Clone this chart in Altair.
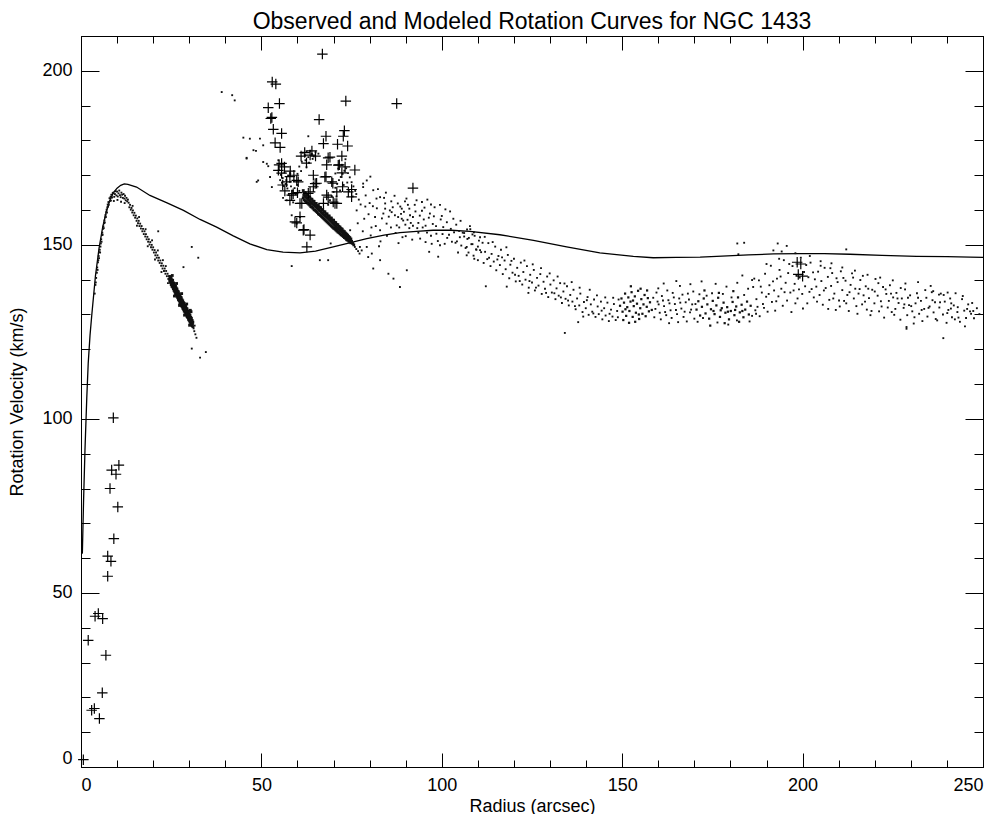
import altair as alt
import pandas as pd

W, H = 902, 731
FONT = "Liberation Sans"

# ---- model rotation curve (solid line) ----
model_r = [0.37, 0.7, 1.1, 1.6, 2.0, 2.5, 3.0, 4.0, 5.0, 6.0, 7.0, 8.0, 9.0, 10.0, 11.0, 12.0,
           13.0, 15.4, 19.1, 24.0, 28.4, 33.0, 37.6, 42.2, 46.8, 51.5, 56.0, 60.7, 65.0, 69.9,
           75.0, 79.2, 84.0, 88.4, 93.0, 97.6, 102.5, 107.8, 116.1, 125.4, 134.6, 143.8, 153.1,
           158.6, 165.0, 171.6, 176.2, 185.0, 192.0, 199.3, 206.0, 213.1, 222.0, 231.6, 240.0,
           246.4, 250.0]
model_v = [61.3, 76.0, 91.0, 106.0, 116.0, 124.0, 130.0, 141.0, 149.0, 155.0, 159.5, 162.8,
           165.0, 166.3, 167.1, 167.5, 167.4, 166.6, 164.2, 162.0, 159.9, 157.3, 155.1, 152.6,
           150.3, 148.6, 147.9, 147.7, 148.2, 149.4, 150.7, 151.8, 152.8, 153.5, 153.9, 154.2,
           154.2, 153.9, 152.9, 151.3, 149.4, 147.7, 146.7, 146.3, 146.4, 146.5, 146.7, 147.1,
           147.4, 147.5, 147.5, 147.3, 147.0, 146.7, 146.6, 146.5, 146.4]

# ---- "+" symbols (radius, velocity) ----
cross_pts = [
    (0.65, 2.1), (2.0, 36.4), (2.95, 16.3), (3.7, 16.8), (3.9, 43.3), (4.8, 44.1), (5.1, 13.9),
    (5.9, 21.3), (6.0, 42.6), (6.9, 32.1), (7.4, 54.8), (7.4, 60.6), (8.3, 59.1), (9.1, 65.6),
    (10.2, 74.7), (8.04, 80.0), (8.5, 85.3), (9.7, 84.1), (10.5, 86.7), (8.96, 100.3),
    (66.9, 204.8), (53.0, 196.8), (54.0, 196.2), (51.9, 189.4), (55.0, 190.6), (73.4, 191.3),
    (87.5, 190.6), (52.6, 186.3), (66.0, 186.0), (53.3, 183.2), (55.6, 182.0), (73.0, 182.8),
    (67.9, 181.2), (72.7, 181.2), (67.2, 179.1), (71.1, 178.9), (73.9, 178.4), (53.8, 179.3),
    (55.2, 178.0), (63.5, 175.8), (68.5, 175.0), (72.3, 175.5), (54.9, 173.0), (56.4, 172.4),
    (71.6, 173.0), (68.1, 173.0), (75.9, 171.5), (73.2, 172.4), (55.6, 170.6), (57.9, 169.6),
    (60.2, 168.1), (57.0, 168.1), (67.9, 169.6), (65.3, 167.7), (64.4, 166.7), (69.8, 167.7),
    (72.5, 166.7), (75.0, 165.9), (55.9, 167.2), (58.4, 164.3), (63.0, 164.8), (68.1, 164.3),
    (70.9, 165.2), (75.0, 163.8), (57.9, 162.8), (60.7, 161.9), (67.2, 161.9), (70.4, 161.9),
    (60.7, 158.1), (59.8, 156.3), (59.3, 156.6), (61.8, 154.4), (63.5, 152.8), (62.6, 149.4),
    (72.3, 170.7), (55.6, 173.4), (52.9, 186.6), (54.7, 171.4), (59.8, 168.5), (58.8, 164.7),
    (61.2, 161.9), (61.6, 154.2), (69.0, 175.2), (67.6, 169.5), (69.5, 168.1), (71.3, 172.9),
    (74.1, 165.2), (69.9, 162.3), (68.5, 163.7), (70.9, 161.9), (64.4, 170.0), (64.9, 167.6),
    (63.5, 165.2), (62.0, 176.5), (61.0, 175.5), (65.0, 175.5), (64.0, 177.0), (62.5, 173.5),
    (58.0, 171.2), (59.0, 170.0), (56.5, 165.5), (60.0, 165.0),
    (92.0, 166.3), (198.5, 145.0), (199.5, 144.5), (198.8, 141.5), (200.0, 141.0),
]

# ---- small dots: rise, peak and decline of the inner disk ----
rise_dots = [
    (3.8, 136.0), (4.0, 138.5), (4.1, 139.2), (4.2, 140.5), (4.4, 142.0), (4.5, 143.5), (4.6, 142.8),
    (4.7, 145.0), (4.8, 145.6), (4.9, 146.8), (5.0, 146.2), (5.1, 147.9), (5.2, 148.6), (5.3, 147.8),
    (5.4, 149.5), (5.5, 150.4), (5.6, 151.6), (5.7, 150.9), (5.8, 152.8), (5.9, 153.5), (6.0, 152.9),
    (6.1, 154.6), (6.2, 155.3), (6.3, 154.8), (6.4, 156.2), (6.5, 157.0), (6.6, 156.4), (6.7, 157.9),
    (6.8, 158.6), (6.9, 158.0), (7.0, 159.4), (7.1, 160.1), (7.2, 159.3), (7.3, 160.8), (7.4, 161.6),
    (7.5, 161.0), (7.7, 161.5),
    (7.6, 162.3), (7.9, 163.4), (8.2, 163.8), (8.4, 164.4), (8.6, 163.6), (8.8, 164.9), (9.0, 165.0),
    (9.2, 163.8), (9.4, 164.6), (9.6, 165.4), (9.8, 164.2), (10.0, 165.3), (10.2, 163.9), (10.4, 164.8),
    (10.6, 165.6), (10.8, 164.3), (11.0, 163.7), (11.2, 165.0), (11.4, 164.4), (11.6, 163.5),
    (11.8, 164.6), (12.0, 163.3), (12.2, 164.1), (12.4, 162.8), (12.6, 163.5), (12.8, 162.5),
    (13.0, 163.0), (9.1, 162.6), (10.1, 162.9), (11.1, 162.4), (12.1, 162.0), (8.0, 162.6), (8.3, 162.7),
    (13.2, 162.1), (13.4, 160.8), (13.6, 161.5), (13.8, 160.1), (14.0, 160.6), (14.2, 159.3),
    (14.4, 159.9), (14.6, 158.5), (14.8, 159.2), (15.0, 157.8), (15.2, 158.4), (15.4, 156.9),
    (15.6, 157.6), (15.8, 156.2), (16.0, 156.9), (16.2, 155.4), (16.4, 156.1), (16.6, 154.7),
    (16.8, 155.4), (17.0, 153.9), (17.2, 154.6), (17.4, 153.1), (17.6, 153.9), (17.8, 152.4),
    (18.0, 153.1), (18.2, 151.6), (18.4, 152.3), (18.6, 150.9), (18.8, 151.6), (19.0, 150.1),
    (19.2, 150.8), (19.4, 149.3), (19.6, 150.0), (19.8, 148.6), (20.0, 149.3), (20.2, 147.8),
    (20.4, 148.5), (20.6, 147.0), (20.8, 147.8), (21.0, 146.3), (21.2, 147.0), (21.4, 145.5),
    (21.6, 146.3), (21.8, 144.8), (22.0, 145.5), (22.2, 144.0), (22.4, 144.7), (22.6, 143.2),
    (22.8, 144.0), (23.0, 142.5), (23.2, 143.2), (23.4, 141.7), (23.6, 142.5), (23.8, 141.0),
    (24.0, 141.7), (24.2, 140.2), (24.4, 141.0),
    (14.3, 161.2), (16.1, 158.0), (17.9, 154.5), (19.7, 151.3), (21.3, 148.4), (22.7, 145.6),
    (23.5, 143.9), (15.5, 155.5), (18.5, 149.6), (20.5, 145.8), (22.3, 142.2), (24.1, 139.0),
    (30.7, 149.4), (32.5, 146.3), (28.4, 143.6), (30.7, 120.2), (34.6, 119.2), (33.0, 117.6),
    (21.4, 153.9), (31.2, 126.0), (31.4, 125.2), (31.7, 124.3), (32.0, 123.3), (31.5, 126.8),
]

# ---- dense clump of the inner disk (24 - 31 arcsec) ----
clump_dots = [
    (24.6, 140.9), (24.6, 139.6), (24.8, 140.8), (24.8, 139.2), (25.0, 140.3), (25.0, 138.6),
    (25.2, 139.9), (25.2, 138.1), (25.4, 139.8), (25.4, 137.9), (25.6, 139.1), (25.6, 137.4),
    (25.8, 138.9), (25.8, 136.9), (26.0, 138.3), (26.0, 136.5), (26.2, 138.1), (26.2, 136.0),
    (26.4, 137.6), (26.4, 135.7), (26.6, 137.3), (26.6, 135.2), (26.8, 136.7), (26.8, 134.8),
    (27.0, 136.5), (27.0, 134.3), (27.2, 135.9), (27.2, 134.0), (27.4, 135.6), (27.4, 133.4),
    (27.6, 135.0), (27.6, 133.1), (27.8, 134.8), (27.8, 132.6), (28.0, 134.2), (28.0, 132.3),
    (28.2, 133.9), (28.2, 131.8), (28.4, 133.4), (28.4, 131.5), (28.6, 133.2), (28.6, 131.0),
    (28.8, 132.6), (28.8, 130.7), (29.0, 132.3), (29.0, 130.2), (29.2, 131.8), (29.2, 129.9),
    (29.4, 131.6), (29.4, 129.4), (29.6, 131.0), (29.6, 129.1), (29.8, 130.7), (29.8, 128.6),
    (30.0, 130.1), (30.0, 128.3), (30.2, 129.8), (30.2, 127.8), (30.4, 129.2), (30.4, 127.5),
    (30.6, 128.9), (30.6, 127.1), (30.8, 128.3), (30.8, 126.8), (31.0, 127.8), (31.0, 126.5),
    (24.7, 140.1), (24.9, 139.7), (25.1, 139.3), (25.3, 138.9), (25.5, 138.4), (25.7, 138.0),
    (25.9, 137.6), (26.1, 137.2), (26.3, 136.8), (26.5, 136.4), (26.7, 136.0), (26.9, 135.6),
    (27.1, 135.1), (27.3, 134.7), (27.5, 134.3), (27.7, 133.9), (27.9, 133.5), (28.1, 133.1),
    (28.3, 132.7), (28.5, 132.3), (28.7, 131.9), (28.9, 131.5), (29.1, 131.1), (29.3, 130.7),
    (29.5, 130.2), (29.7, 129.8), (29.9, 129.4), (30.1, 129.0), (30.3, 128.6), (30.5, 128.2),
    (30.7, 127.8), (30.9, 127.4),
    (25.3, 141.2), (26.5, 138.9), (27.9, 136.0), (29.3, 133.0), (30.5, 130.8), (25.9, 135.3),
    (27.3, 132.6), (28.7, 129.8), (30.1, 126.9), (30.3, 131.2),
]

# ---- scattered dots, 38 - 110 arcsec ----
mid_dots = [
    (39.0, 193.9), (41.9, 193.0), (42.6, 191.5), (45.0, 180.8), (46.8, 180.5), (49.6, 180.5),
    (48.5, 177.0), (45.9, 175.0), (50.5, 173.8), (49.1, 168.5), (51.9, 172.6), (52.4, 169.5),
    (52.9, 166.6), (54.7, 174.3), (47.8, 177.2), (50.5, 178.6), (51.5, 173.3), (48.7, 168.1),
    (57.0, 162.8), (58.4, 158.5), (60.7, 158.0), (59.8, 156.1), (58.4, 143.9), (66.2, 145.6),
    (68.5, 145.6), (69.2, 150.4), (73.6, 151.3), (63.0, 181.2), (65.8, 176.2), (45.9, 174.8),
    (61.5, 176.5), (62.0, 175.8), (62.5, 176.9), (63.0, 175.2), (63.5, 177.0), (64.0, 176.1),
    (64.5, 175.4), (65.0, 176.6), (62.2, 174.3), (63.2, 173.6), (64.2, 174.7), (61.2, 173.9),
    (60.5, 172.5), (61.0, 171.2), (62.5, 172.3), (60.0, 170.4),
    (55.4, 170.1), (55.9, 169.2), (56.4, 170.8), (56.9, 168.6), (57.4, 169.9), (57.9, 168.1),
    (55.7, 167.8), (56.2, 166.9), (56.7, 167.5), (57.2, 166.2), (58.2, 166.8), (58.7, 165.5),
    (59.2, 166.3), (59.5, 164.6), (55.2, 168.6), (54.8, 171.4), (58.0, 170.5), (59.0, 168.4),
    (60.0, 167.2), (60.5, 165.5), (57.6, 164.3), (56.0, 163.5), (58.8, 162.2),
    (68.5, 161.5), (69.0, 162.8), (69.5, 164.0), (70.0, 165.2), (70.5, 166.4), (71.0, 167.5),
    (71.5, 168.6), (72.0, 169.5), (72.5, 170.4), (73.0, 171.3), (73.5, 172.0), (74.0, 170.6),
    (74.5, 169.4), (75.0, 168.0), (75.5, 166.8), (76.0, 165.5), (73.8, 167.9), (72.8, 167.2),
    (71.8, 165.6), (70.8, 163.9), (69.8, 162.0), (74.3, 165.4), (75.3, 163.9), (76.3, 164.6),
    (72.3, 173.0), (71.3, 171.9), (73.3, 174.6), (70.5, 170.5), (69.3, 168.0),
    (75.9, 149.4), (76.3, 148.8), (76.8, 148.2), (77.2, 147.5), (77.8, 148.4),
    (78.2, 167.6), (79.2, 168.5), (81.0, 165.7), (82.9, 163.7), (84.3, 161.9), (85.6, 159.9),
    (87.0, 158.5), (83.8, 159.0), (81.5, 158.0), (84.7, 156.1), (87.5, 155.6), (78.2, 166.6),
    (76.4, 159.9), (74.6, 154.2), (77.3, 149.4), (79.6, 146.5), (81.0, 143.2), (82.9, 145.6),
    (85.2, 141.7), (86.6, 140.3), (80.0, 162.0), (82.0, 160.5), (86.0, 162.5), (88.5, 161.0),
    (89.5, 159.5), (90.5, 157.2), (92.0, 158.0), (93.5, 156.3), (91.0, 154.8), (94.5, 159.8),
    (95.5, 155.5), (80.5, 155.0), (78.5, 157.5), (83.0, 151.0), (88.0, 150.5), (90.0, 152.5),
    (77.0, 163.0), (78.8, 161.0), (80.2, 169.6), (81.9, 163.3), (84.3, 160.4), (86.1, 159.4),
    (87.9, 158.0), (88.9, 157.5), (82.9, 154.2), (79.2, 149.4), (80.6, 147.5),
    (89.3, 157.0), (91.2, 158.5), (96.7, 159.0), (100.4, 155.1), (103.2, 157.5), (105.0, 152.2),
    (106.9, 149.4), (94.0, 151.8), (99.5, 149.9), (88.9, 160.4), (91.0, 160.4), (90.3, 142.7),
    (88.4, 137.9), (92.5, 161.5), (95.0, 157.3), (97.5, 156.0), (98.5, 153.2), (101.5, 152.0),
    (102.5, 154.6), (104.0, 155.8), (92.0, 155.5), (93.5, 153.5), (95.5, 150.8), (97.0, 152.6),
    (100.0, 158.3), (101.0, 160.2), (98.0, 160.8), (94.5, 162.3), (96.0, 163.0), (89.8, 162.5),
    (103.8, 150.6), (105.8, 153.5), (107.5, 152.0), (108.5, 150.2), (96.5, 148.0), (99.0, 146.6),
    (104.5, 147.8), (110.0, 149.5), (109.0, 146.0),
    (76.7, 156.2), (77.5, 161.6), (78.1, 153.9), (78.9, 164.2), (79.7, 158.8), (80.3, 152.7),
    (80.9, 161.1), (81.7, 155.4), (82.3, 166.0), (82.6, 149.6), (83.4, 157.6), (84.0, 163.5),
    (84.8, 152.6), (85.3, 158.1), (85.9, 155.0), (86.4, 160.8), (87.2, 153.4), (87.8, 161.9),
    (88.2, 155.0), (88.7, 158.9), (89.1, 152.2), (89.9, 155.8), (90.6, 161.5), (91.4, 156.3),
    (91.8, 151.5), (92.7, 159.6), (93.2, 154.8), (93.9, 158.4), (94.7, 155.0), (95.2, 160.7),
    (95.9, 153.5), (96.4, 157.8), (97.2, 150.3), (97.8, 158.2), (98.4, 155.4), (98.9, 151.1),
    (99.7, 157.3), (100.2, 153.1), (100.8, 150.3), (101.4, 156.5), (102.0, 152.9), (102.8, 150.9),
    (103.4, 153.6), (104.2, 151.0), (104.8, 154.0), (105.4, 149.8), (106.2, 152.4), (107.0, 154.4),
    (108.9, 153.6), (109.6, 148.6), (110.6, 152.2), (84.5, 165.0), (86.9, 164.1), (90.2, 163.3),
    (93.0, 162.8), (97.0, 161.6), (99.5, 161.5), (102.3, 159.6), (105.2, 156.9), (107.8, 155.4),
]

# ---- dense diagonal band, 61 - 76 arcsec ----
band_dots = [
    (61.6, 165.6), (61.6, 163.5), (61.9, 165.0), (61.9, 162.9), (62.2, 164.9), (62.2, 162.6),
    (62.5, 164.3), (62.5, 162.4), (62.8, 164.4), (62.8, 162.0), (63.1, 163.8), (63.1, 161.7),
    (63.4, 163.7), (63.4, 161.4), (63.7, 163.2), (63.7, 161.0), (64.0, 163.1), (64.0, 160.8),
    (64.3, 162.6), (64.3, 160.5), (64.6, 162.5), (64.6, 160.1), (64.9, 161.9), (64.9, 159.9),
    (65.2, 161.9), (65.2, 159.6), (65.5, 161.3), (65.5, 159.3), (65.8, 161.3), (65.8, 158.9),
    (66.1, 160.8), (66.1, 158.7), (66.4, 160.7), (66.4, 158.4), (66.7, 160.1), (66.7, 158.1),
    (67.0, 160.1), (67.0, 157.8), (67.3, 159.5), (67.3, 157.5), (67.6, 159.5), (67.6, 157.2),
    (67.9, 158.9), (67.9, 156.9), (68.2, 158.9), (68.2, 156.6), (68.5, 158.3), (68.5, 156.3),
    (68.8, 158.3), (68.8, 156.0), (69.1, 157.7), (69.1, 155.7), (69.4, 157.7), (69.4, 155.4),
    (69.7, 157.1), (69.7, 155.1), (70.0, 157.1), (70.0, 154.8), (70.3, 156.5), (70.3, 154.6),
    (70.6, 156.4), (70.6, 154.3), (70.9, 155.9), (70.9, 154.0), (71.2, 155.8), (71.2, 153.7),
    (71.5, 155.3), (71.5, 153.5), (71.8, 155.1), (71.8, 153.2), (72.1, 154.7), (72.1, 152.9),
    (72.4, 154.5), (72.4, 152.7), (72.7, 154.0), (72.7, 152.4), (73.0, 153.8), (73.0, 152.1),
    (73.3, 153.4), (73.3, 151.9), (73.6, 153.1), (73.6, 151.6), (73.9, 152.8), (73.9, 151.4),
    (74.2, 152.4), (74.2, 151.1), (74.5, 152.1), (74.5, 150.8), (74.8, 151.7), (74.8, 150.6),
    (61.75, 164.25), (62.05, 163.95), (62.35, 163.65), (62.65, 163.35), (62.95, 163.05),
    (63.25, 162.75), (63.55, 162.45), (63.85, 162.15), (64.15, 161.85), (64.45, 161.55),
    (64.75, 161.25), (65.05, 160.95), (65.35, 160.65), (65.65, 160.35), (65.95, 160.05),
    (66.25, 159.75), (66.55, 159.45), (66.85, 159.15), (67.15, 158.85), (67.45, 158.55),
    (67.75, 158.25), (68.05, 157.95), (68.35, 157.65), (68.65, 157.35), (68.95, 157.05),
    (69.25, 156.75), (69.55, 156.45), (69.85, 156.15), (70.15, 155.85), (70.45, 155.55),
    (70.75, 155.25), (71.05, 154.95), (71.35, 154.65), (71.65, 154.35), (71.95, 154.05),
    (72.25, 153.75), (72.55, 153.45), (72.85, 153.15), (73.15, 152.85), (73.45, 152.55),
    (73.75, 152.25), (74.05, 151.95), (74.35, 151.65), (74.65, 151.35), (75.0, 151.0),
    (75.3, 150.4), (75.6, 150.0),
]

# ---- scattered band, 106 - 150 arcsec ----
slope_dots = [
    (106.2, 153.4), (106.6, 149.1), (107.1, 151.7), (107.4, 147.8), (107.9, 154.5), (108.2, 150.2),
    (108.8, 146.9), (109.1, 152.6), (109.5, 148.7), (110.0, 145.6), (110.3, 151.2), (110.9, 147.9),
    (111.3, 150.6), (111.6, 144.8), (112.0, 148.0), (112.6, 145.9), (112.9, 150.5), (113.5, 143.9),
    (113.8, 147.4), (114.4, 145.2), (114.8, 149.5), (115.1, 142.7), (115.7, 146.8), (116.1, 144.2),
    (116.4, 148.6), (116.9, 141.6), (117.4, 145.5), (117.7, 143.0), (118.3, 147.1), (118.7, 140.4),
    (119.0, 144.3), (119.6, 142.0), (120.0, 146.0), (120.5, 139.5), (120.9, 143.4), (121.3, 141.1),
    (121.9, 144.9), (122.3, 138.6), (122.6, 142.2), (123.2, 140.0), (123.6, 143.9), (124.1, 137.7),
    (124.5, 141.4), (125.0, 139.2), (125.5, 142.8), (125.8, 136.9), (126.4, 140.5), (126.8, 138.3),
    (127.3, 141.6), (127.7, 135.9), (128.2, 139.4), (128.6, 137.4), (129.2, 140.9), (129.5, 135.0),
    (130.1, 138.6), (130.5, 136.3), (131.0, 139.8), (131.5, 134.4), (131.8, 137.5), (132.4, 135.4),
    (132.8, 139.0), (133.3, 133.3), (133.7, 136.6), (134.3, 134.5), (134.7, 138.1), (135.2, 132.6),
    (135.6, 135.6), (136.2, 133.7), (136.5, 137.1), (137.1, 131.5), (137.5, 134.6), (138.1, 132.6),
    (138.4, 136.0), (139.0, 130.7), (139.4, 133.6), (139.9, 131.8), (140.4, 135.0), (140.7, 129.9),
    (141.3, 132.9), (141.7, 130.8), (142.2, 134.3), (142.6, 129.3), (143.2, 132.3), (143.5, 130.1),
    (144.1, 133.7), (144.5, 128.6), (145.0, 131.8), (145.4, 129.7), (145.9, 133.4), (146.3, 128.1),
    (146.9, 131.4), (147.3, 129.4), (147.7, 133.0), (148.2, 128.4), (148.6, 131.0), (149.0, 134.3),
    (106.9, 147.0), (108.5, 153.0), (110.6, 148.5), (111.9, 152.3), (113.1, 146.3), (114.1, 150.8),
    (115.4, 145.8), (116.7, 146.4), (117.9, 149.3), (119.3, 145.4), (120.3, 141.4), (121.6, 139.6),
    (122.9, 145.5), (124.3, 139.6), (125.2, 144.4), (126.1, 137.7), (127.5, 143.3), (128.9, 136.2),
    (129.9, 141.8), (131.2, 136.1), (132.1, 140.9), (133.0, 134.9), (134.0, 138.9), (135.0, 134.0),
    (136.0, 139.3), (136.9, 132.4), (138.2, 137.7), (139.2, 129.4), (140.2, 134.1), (141.0, 137.1),
    (142.0, 130.3), (143.0, 135.5), (144.3, 131.1), (145.3, 134.9), (146.5, 130.2), (147.5, 134.8),
    (148.8, 129.2), (134.1, 124.7), (137.8, 127.8), (112.2, 138.1), (118.0, 138.0), (124.0, 136.2),
]

# ---- scattered dots, 158 - 186 arcsec ----
flat_dots = [
    (158.6, 134.8), (159.2, 131.6), (159.8, 133.7), (160.4, 130.5), (161.0, 135.3), (161.6, 132.4),
    (162.2, 129.8), (162.8, 134.1), (163.4, 131.2), (164.0, 136.2), (164.6, 133.0), (165.2, 130.1),
    (165.8, 134.6), (166.4, 131.7), (167.0, 129.3), (167.6, 133.5), (168.2, 136.0), (168.8, 130.6),
    (169.4, 132.9), (170.0, 128.8), (163.0, 127.5), (166.0, 138.2), (160.0, 137.5),
    (158.9, 129.2), (159.5, 136.3), (160.1, 132.9), (160.7, 128.6), (161.3, 134.0), (161.9, 130.7),
    (162.5, 136.9), (163.1, 133.2), (163.7, 129.0), (164.3, 134.9), (164.9, 131.3), (165.5, 127.8),
    (166.1, 133.4), (166.7, 135.7), (167.3, 130.8), (167.9, 128.0), (168.5, 134.3), (169.1, 131.4),
    (169.7, 136.6), (170.3, 133.0), (170.9, 127.9), (171.4, 135.8), (172.4, 129.0), (173.4, 135.4),
    (174.9, 136.1), (176.4, 127.7), (177.9, 135.9), (179.4, 127.1), (180.3, 134.9), (181.8, 128.3),
    (183.8, 135.6), (185.3, 128.0), (186.0, 129.6), (187.1, 130.2), (184.9, 137.4), (181.9, 139.1),
    (178.9, 138.0), (175.9, 138.8), (172.0, 139.5), (168.9, 138.7), (165.0, 139.6), (161.5, 138.9),
    (186.6, 140.3), (183.3, 141.2),
]

# ---- scattered cloud, 186 - 250 arcsec ----
cloud_dots = [
    (186.3, 137.9), (186.9, 131.2), (187.2, 134.4), (187.9, 139.8), (188.1, 129.5), (188.7, 136.3),
    (189.0, 133.0), (189.6, 141.7), (189.9, 135.1), (190.3, 130.8), (190.8, 138.4), (191.2, 144.0),
    (191.5, 133.6), (192.1, 136.9), (192.4, 131.1), (192.9, 140.3), (193.3, 135.2), (193.6, 142.8),
    (194.1, 137.4), (194.5, 132.5), (194.8, 145.6), (195.3, 139.1), (195.7, 134.0), (196.0, 141.9),
    (196.6, 136.3), (196.9, 130.7), (197.2, 143.9), (197.8, 138.8), (198.3, 141.1), (198.6, 134.6),
    (199.0, 137.2), (199.5, 146.3), (199.9, 135.9), (200.4, 142.2), (200.7, 138.1), (201.3, 133.2),
    (201.6, 140.7), (202.2, 144.9), (202.5, 137.3), (203.1, 134.9), (203.4, 140.1), (203.8, 138.0),
    (204.3, 142.3), (204.7, 135.6), (205.2, 139.6), (205.6, 132.8), (206.1, 143.4), (206.4, 137.6),
    (207.0, 140.8), (207.4, 134.2), (207.9, 138.2), (208.2, 141.9), (208.8, 136.0), (209.2, 131.3),
    (209.7, 139.3), (210.1, 134.0), (210.6, 142.4), (211.0, 137.0), (211.5, 133.9), (211.9, 139.7),
    (212.4, 135.6), (212.8, 131.0), (213.3, 138.5), (213.7, 141.8), (214.2, 134.6), (214.6, 137.4),
    (215.2, 130.2), (215.5, 136.0), (216.0, 139.9), (216.5, 132.9), (216.9, 135.5), (217.5, 138.1),
    (217.8, 131.4), (218.4, 134.7), (218.8, 129.8), (219.3, 137.1), (219.9, 133.2), (220.2, 140.2),
    (220.8, 135.4), (221.2, 130.9), (221.7, 133.8), (222.3, 137.9), (222.6, 129.1), (223.2, 135.9),
    (223.6, 132.0), (224.2, 138.4), (224.7, 130.7), (225.1, 134.9), (225.7, 131.6), (226.0, 136.2),
    (226.6, 133.3), (227.1, 128.5), (227.5, 134.6), (228.0, 131.9), (228.4, 137.2), (229.0, 129.8),
    (229.5, 132.7), (229.8, 135.5), (230.4, 130.9), (230.8, 127.4), (231.3, 133.2), (231.7, 136.1),
    (232.3, 130.2), (232.8, 133.9), (233.2, 128.1), (233.7, 131.6), (234.3, 134.8), (234.6, 129.4),
    (235.2, 132.3), (235.8, 136.4), (236.3, 130.6), (236.7, 133.5), (237.3, 128.3), (237.9, 132.0),
    (238.3, 136.0), (238.9, 130.0), (239.4, 133.7), (239.9, 127.6), (240.4, 131.3), (240.9, 134.6),
    (241.4, 129.2), (241.9, 132.6), (242.4, 136.1), (242.9, 130.7), (243.6, 127.9), (244.2, 134.4),
    (244.8, 131.1), (245.3, 129.0), (245.9, 132.9), (246.7, 130.2), (247.5, 128.9), (248.3, 131.8),
    (249.0, 130.1),
    (186.0, 139.9), (187.5, 132.2), (188.4, 138.0), (189.3, 131.9), (190.6, 135.9), (191.8, 139.5),
    (192.7, 133.8), (193.9, 140.9), (195.0, 136.4), (196.3, 144.5), (197.5, 136.9), (198.0, 133.2),
    (199.2, 140.6), (200.1, 131.7), (201.0, 144.2), (201.9, 136.5), (202.9, 142.1), (204.0, 133.7),
    (205.0, 144.0), (205.9, 136.9), (207.1, 131.6), (207.7, 143.3), (208.5, 134.6), (209.4, 140.4),
    (210.3, 132.3), (211.3, 140.5), (212.1, 133.2), (213.0, 136.4), (214.0, 140.6), (214.9, 132.4),
    (215.8, 137.3), (216.7, 141.1), (217.3, 133.7), (218.2, 137.4), (219.1, 131.0), (220.0, 136.6),
    (221.0, 139.0), (221.9, 132.3), (223.0, 137.2), (223.9, 133.9), (224.5, 136.0), (225.4, 129.9),
    (226.3, 134.6), (227.2, 137.6), (228.2, 132.9), (229.2, 134.8), (230.1, 132.4), (231.0, 129.2),
    (232.0, 134.8), (233.0, 131.3), (234.0, 137.0), (234.9, 131.9), (236.0, 134.1), (236.9, 128.7),
    (238.1, 133.5), (239.1, 135.6), (240.1, 130.4), (241.2, 133.2), (242.2, 128.6), (243.0, 132.1),
    (244.4, 135.3), (245.6, 131.6), (247.0, 133.3),
    (246.4, 130.9), (247.3, 131.0), (243.2, 129.1), (239.0, 123.2), (241.1, 131.7), (240.2, 136.3),
    (236.2, 136.7), (237.8, 135.7), (228.8, 126.4), (245.0, 126.6), (228.8, 125.9),
    (190.0, 144.5), (193.5, 146.0), (198.0, 147.6), (202.0, 146.8), (205.0, 145.3), (208.0, 144.7),
    (211.0, 143.5), (214.5, 142.6), (218.0, 141.4), (221.5, 140.6), (225.0, 139.8), (228.5, 138.9),
    (232.0, 139.3), (235.5, 138.2),
    (181.9, 150.4), (183.8, 150.6), (193.1, 150.4), (195.6, 149.7), (191.9, 148.4), (194.2, 148.1),
    (212.1, 148.7), (182.2, 147.3),
]

# ---- dense clumps of the outer disk (149 - 186 arcsec) ----
outer_clump_dots = [
    (149.4, 132.5), (149.8, 134.6), (150.1, 130.8), (150.5, 133.4), (150.8, 136.0), (151.1, 129.6),
    (151.4, 132.1), (151.7, 134.9), (152.0, 131.0), (152.3, 133.7), (152.6, 136.4), (152.9, 129.3),
    (153.2, 132.4), (153.5, 135.2), (153.8, 130.5), (154.1, 133.1), (154.4, 136.8), (154.7, 128.7),
    (155.0, 131.8), (155.3, 134.4), (155.6, 130.2), (155.9, 132.9), (156.2, 135.6), (156.5, 129.5),
    (156.8, 132.2), (157.1, 134.7), (157.4, 130.9), (157.7, 133.5), (150.3, 128.4), (151.9, 127.6),
    (153.6, 127.9), (155.1, 137.4), (156.9, 136.9), (152.4, 138.1), (158.2, 131.3), (154.6, 130.0),
    (150.9, 131.5), (153.0, 134.0),
    (170.6, 131.4), (171.1, 133.8), (171.6, 129.7), (172.1, 132.2), (172.6, 134.6), (173.1, 130.3),
    (173.6, 132.9), (174.1, 128.8), (174.6, 131.5), (175.1, 133.9), (175.6, 130.1), (176.1, 132.6),
    (176.6, 134.8), (177.1, 129.3), (177.6, 131.8), (178.1, 133.4), (178.6, 130.5), (179.1, 132.1),
    (179.6, 128.6), (180.1, 131.0), (180.6, 133.6), (181.1, 129.8), (181.6, 132.3), (182.1, 134.9),
    (182.6, 130.6), (183.1, 132.8), (183.6, 129.2), (184.1, 131.4), (184.6, 133.7), (185.1, 130.0),
    (185.6, 132.5), (174.4, 126.8), (178.4, 127.5), (182.4, 127.9), (176.8, 136.2), (180.8, 136.7),
    (172.8, 136.9), (175.3, 131.0), (177.3, 131.2), (179.3, 130.8), (181.3, 131.3), (183.3, 131.0),
]

x_major = [0, 50, 100, 150, 200, 250]
y_major = [0, 50, 100, 150, 200]
x_minor = list(range(0, 251, 10))
y_minor = list(range(0, 211, 10))

line_df = pd.DataFrame({"r": model_r, "v": model_v})
cross_df = pd.DataFrame(cross_pts, columns=["r", "v"])
small_df = pd.DataFrame(rise_dots + mid_dots + slope_dots + flat_dots + cloud_dots,
                        columns=["r", "v"])
dense_df = pd.DataFrame(clump_dots + band_dots, columns=["r", "v"])
clump_df = pd.DataFrame(outer_clump_dots, columns=["r", "v"])

xs = alt.Scale(domain=[0, 250], nice=False, zero=False)
ys = alt.Scale(domain=[0, 210], nice=False, zero=False)

label_axis_x = alt.Axis(orient="bottom", values=x_major, format="d", ticks=False, tickSize=0,
                        domain=False, grid=False, labelFont=FONT, labelFontSize=18,
                        labelColor="black", labelPadding=9, title="Radius (arcsec)",
                        titleFont=FONT, titleFontSize=18, titleFontWeight="normal",
                        titleColor="black", titlePadding=3)
label_axis_y = alt.Axis(orient="left", values=y_major, format="d", ticks=False, tickSize=0,
                        domain=False, grid=False, labelFont=FONT, labelFontSize=18,
                        labelColor="black", labelPadding=9, labelFlush=True,
                        title="Rotation Velocity (km/s)", titleFont=FONT, titleFontSize=18,
                        titleFontWeight="normal", titleColor="black", titlePadding=15)


def tick_axis(orient, values, size, offset):
    return alt.Axis(orient=orient, values=values, labels=False, domain=False, grid=False,
                    ticks=True, tickSize=size, tickColor="black", tickWidth=1,
                    offset=offset, title=None)


line = alt.Chart(line_df).mark_line(color="black", strokeWidth=1.3).encode(
    x=alt.X("r:Q", scale=xs, axis=label_axis_x),
    y=alt.Y("v:Q", scale=ys, axis=label_axis_y),
)

small = alt.Chart(small_df).mark_square(size=3.5, color="#111111", opacity=1).encode(
    x=alt.X("r:Q", scale=xs, axis=None),
    y=alt.Y("v:Q", scale=ys, axis=None),
)

dense = alt.Chart(dense_df).mark_square(size=8, color="#111111", opacity=1).encode(
    x=alt.X("r:Q", scale=xs, axis=None),
    y=alt.Y("v:Q", scale=ys, axis=None),
)

clumps = alt.Chart(clump_df).mark_square(size=5, color="#111111", opacity=1).encode(
    x=alt.X("r:Q", scale=xs, axis=None),
    y=alt.Y("v:Q", scale=ys, axis=None),
)

crosses = alt.Chart(cross_df).mark_point(
    shape="M -1 0 L 1 0 M 0 -1 L 0 1", size=110, filled=False, color="black",
    strokeWidth=1.2, opacity=1,
).encode(
    x=alt.X("r:Q", scale=xs, axis=None),
    y=alt.Y("v:Q", scale=ys, axis=None),
)


def tick_layer(xa, ya):
    return alt.Chart(line_df).mark_point(opacity=0).encode(
        x=alt.X("r:Q", scale=xs, axis=xa),
        y=alt.Y("v:Q", scale=ys, axis=ya),
    )


t1 = tick_layer(tick_axis("top", x_major, 14, -H), tick_axis("right", y_major, 18, -W))
t2 = tick_layer(tick_axis("top", x_minor, 7, -H), tick_axis("right", y_minor, 9, -W))
t3 = tick_layer(tick_axis("bottom", x_major, 14, -H), tick_axis("left", y_major, 18, -W))
t4 = tick_layer(tick_axis("bottom", x_minor, 7, -H), tick_axis("left", y_minor, 9, -W))

chart = alt.layer(line, small, dense, clumps, crosses, t1, t2, t3, t4).resolve_axis(
    x="independent", y="independent"
).properties(
    width=W, height=H,
    title=alt.Title("Observed and Modeled Rotation Curves for NGC 1433", font=FONT,
                    fontSize=23, fontWeight="normal", color="black", anchor="middle", offset=2),
    autosize=alt.AutoSizeParams(type="none"),
    padding={"left": 73, "top": 28, "right": 10, "bottom": 47},
).configure_view(stroke="black", strokeWidth=1)

chart.save("out.html", embed_options={"renderer": "svg", "actions": False})
